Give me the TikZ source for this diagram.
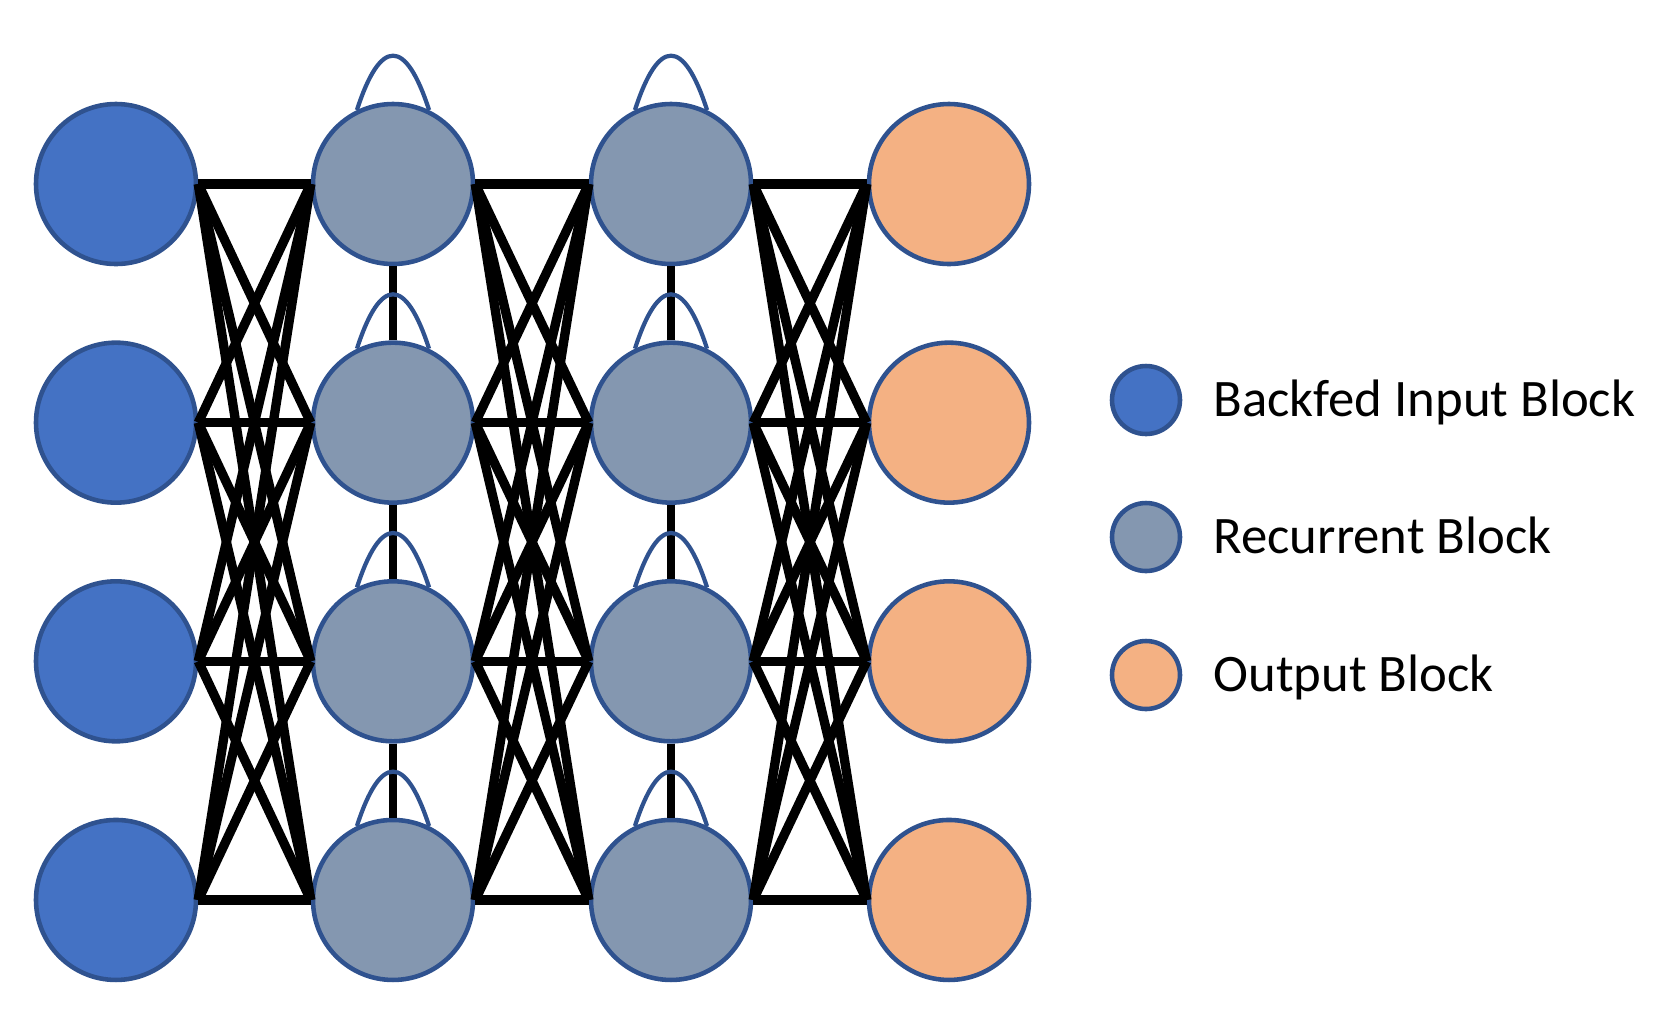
\documentclass[tikz,border=0pt]{standalone}
\usepackage{fontspec}
\setmainfont{Carlito}
\usetikzlibrary{positioning}

\definecolor{inblue}{HTML}{4472C4}
\definecolor{recgray}{HTML}{8497B0}
\definecolor{outpeach}{HTML}{F4B183}
\definecolor{rimblue}{HTML}{2F528F}

\tikzset{
	block/.style={circle, draw=rimblue, line width=2.6pt, minimum size=3.2cm, inner sep=0pt},
	inblock/.style={block, fill=inblue},
	recblock/.style={block, fill=recgray},
	outblock/.style={block, fill=outpeach},
	keyblock/.style={circle, draw=rimblue, line width=2.6pt, minimum size=1.36cm, inner sep=0pt},
	keytext/.style={right=0.62cm of #1, inner sep=0pt, anchor=west, text height=19.3pt, text depth=0pt, font=\fontsize{30}{36}\selectfont},
	link/.style={line width=5.3pt, black, line cap=butt},
	vlink/.style={line width=4.2pt, black},
	selfloop/.style={line width=2.4pt, rimblue}
}

\begin{document}
\begin{tikzpicture}
\useasboundingbox (0,0) rectangle (33.42,-20.48);

\foreach \r [evaluate=\r as \y using -3.68-4.773*(\r-1)] in {1,...,4} {
	\node[inblock] (in\r) at (2.32,\y) {};
	\node[recblock] (ra\r) at (7.86,\y) {};
	\node[recblock] (rb\r) at (13.42,\y) {};
	\node[outblock] (out\r) at (18.98,\y) {};
}

\foreach \a/\b in {in/ra, ra/rb, rb/out}
	\foreach \i in {1,...,4}
		\foreach \j in {1,...,4}
			\draw[link] (\a\i.east) -- (\b\j.west);

\foreach \c in {ra, rb} {
	\foreach \i/\j in {1/2, 2/3, 3/4}
		\draw[vlink] (\c\i.south) -- (\c\j.north);
	\foreach \i in {1,...,4}
		\draw[selfloop] (\c\i.116) .. controls +(0.47,1.45) and +(-0.47,1.45) .. (\c\i.64);
}

\node[keyblock, fill=inblue] (keyin) at (22.92,-8.0) {};
\node[keyblock, fill=recgray] (keyrec) at (22.92,-10.74) {};
\node[keyblock, fill=outpeach] (keyout) at (22.92,-13.5) {};

\node[keytext=keyin] (lblin) {Backfed Input Block};
\node[keytext=keyrec] (lblrec) {Recurrent Block};
\node[keytext=keyout] (lblout) {Output Block};

\end{tikzpicture}
\end{document}
